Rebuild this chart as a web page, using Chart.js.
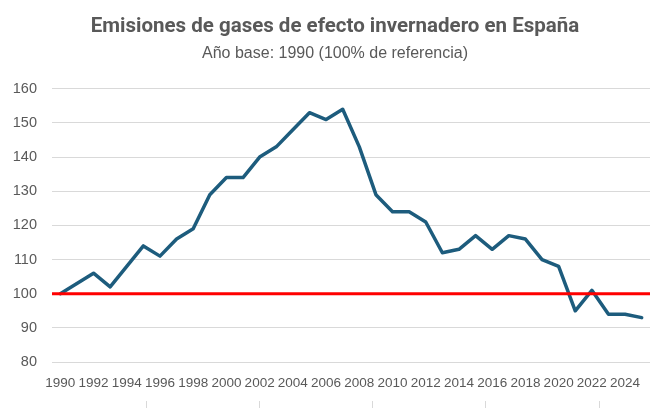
<!DOCTYPE html>
<html>
<head>
<meta charset="utf-8">
<script src="https://cdn.jsdelivr.net/npm/chart.js@4.4.1/dist/chart.umd.min.js"></script>
<style>
  html, body { margin: 0; padding: 0; background: #fff; }
  #wrap { width: 670px; height: 408px; }
</style>
</head>
<body>
<div id="wrap"><canvas id="chart"></canvas></div>
<script>
// ---------- data ----------
const years = [
  1990, 1991, 1992, 1993, 1994, 1995, 1996, 1997, 1998, 1999,
  2000, 2001, 2002, 2003, 2004, 2005, 2006, 2007, 2008, 2009,
  2010, 2011, 2012, 2013, 2014, 2015, 2016, 2017, 2018, 2019,
  2020, 2021, 2022, 2023, 2024, 2025
];
const emissions = [
  100, 103, 106, 102, 108, 114, 111, 116, 119, 129,
  134, 134, 140, 143, 148, 153, 151, 154, 143, 129,
  124, 124, 121, 112, 113, 117, 113, 117, 116, 110,
  108, 95, 101, 94, 94, 93
];
const baseLevel = 100;
const yTicks = [80, 90, 100, 110, 120, 130, 140, 150, 160];

// secondary axis carrying the 100% reference line (its range runs past the plot on both sides)
const refAxisMin = 0.168, refAxisMax = 5.45;
const refAxisTicks = [1, 2, 3, 4, 5];

const GRAY = '#595959';
const SANS = "'Liberation Sans', Arial, sans-serif";

new Chart(document.getElementById('chart'), {
  type: 'line',
  data: {
    labels: years.map(String),
    datasets: [
      {
        data: emissions,
        xAxisID: 'x',
        borderColor: '#1D5C7D',
        borderWidth: 3.5,
        pointRadius: 0,
        tension: 0,
        borderJoinStyle: 'round',
        borderCapStyle: 'round',
        order: 2
      },
      {
        data: [{ x: refAxisMin, y: baseLevel }, { x: refAxisMax, y: baseLevel }],
        xAxisID: 'x2',
        borderColor: '#FF0000',
        borderWidth: 3,
        pointRadius: 0,
        order: 1
      }
    ]
  },
  options: {
    responsive: true,
    maintainAspectRatio: false,
    animation: false,
    layout: { padding: 0 },
    plugins: {
      legend: { display: false },
      tooltip: { enabled: false },
      title: {
        display: true,
        text: 'Emisiones de gases de efecto invernadero en España',
        color: GRAY,
        font: { family: "Roboto, " + SANS, size: 20.5, weight: 'bold' },
        padding: { top: 15, bottom: 4 }
      },
      subtitle: {
        display: true,
        text: 'Año base: 1990 (100% de referencia)',
        color: GRAY,
        font: { family: SANS, size: 16 },
        padding: { top: 0, bottom: 26 }
      }
    },
    scales: {
      x: {
        type: 'category',
        offset: true,
        grid: { display: false },
        border: { display: false },
        ticks: {
          color: GRAY,
          font: { family: SANS, size: 13.5 },
          autoSkip: false,
          maxRotation: 0,
          padding: 5,
          callback: (v, i) => (i % 2 === 0 ? years[i] : '')
        },
        afterFit: scale => { scale.height = 39; }
      },
      x2: {
        type: 'linear',
        position: 'bottom',
        min: refAxisMin,
        max: refAxisMax,
        afterBuildTicks: scale => {
          scale.ticks = refAxisTicks.map(v => ({ value: v }));
        },
        grid: { display: true, drawOnChartArea: false, drawTicks: true, tickLength: 7, color: '#D9D9D9' },
        border: { display: false },
        ticks: { display: false },
        afterFit: scale => { scale.height = 7; }
      },
      y: {
        min: 80,
        max: 160,
        afterBuildTicks: scale => {
          scale.ticks = yTicks.map(v => ({ value: v }));
        },
        grid: { color: '#D9D9D9', lineWidth: 1, drawTicks: false },
        border: { display: false },
        ticks: {
          color: GRAY,
          font: { family: SANS, size: 14.5 },
          padding: 15
        },
        afterFit: scale => { scale.width = 52; }
      },
      // empty right-hand strip so the titles centre on the full width
      yRight: {
        type: 'linear',
        position: 'right',
        grid: { display: false },
        border: { display: false },
        ticks: { display: false },
        afterFit: scale => { scale.width = 20; }
      }
    }
  }
});
</script>
</body>
</html>
